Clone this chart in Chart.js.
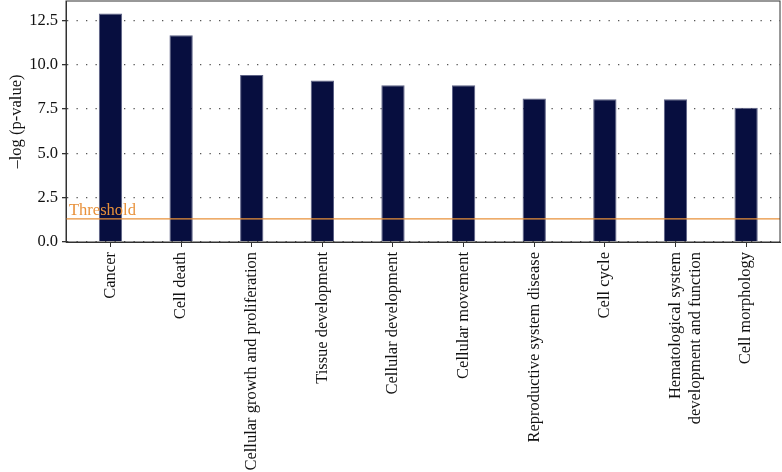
<!DOCTYPE html>
<html>
<head>
<meta charset="utf-8">
<script src="https://cdn.jsdelivr.net/npm/chart.js@4"></script>
<style>
  html, body { margin: 0; padding: 0; background: #fff; }
  #wrap { width: 782px; height: 472px; position: relative; }
</style>
</head>
<body>
<div id="wrap"><canvas id="barChart"></canvas></div>
<script>
// --- Data ---
const categories = [
  "Cancer",
  "Cell death",
  "Cellular growth and proliferation",
  "Tissue development",
  "Cellular development",
  "Cellular movement",
  "Reproductive system disease",
  "Cell cycle",
  ["Hematological system", "development and function"],
  "Cell morphology"
];
const negLogP = [12.9, 11.67, 9.43, 9.12, 8.84, 8.84, 8.1, 8.05, 8.05, 7.58];
const yTicks = [0, 2.5, 5, 7.5, 10, 12.5];
const threshold = 1.3;

const FONT = "'Liberation Serif', 'DejaVu Serif', serif";
const ORANGE = "#E8913A";

// frame round the plot + threshold line and label
const extras = {
  id: "extras",
  afterDatasetsDraw(chart) {
    const { ctx, chartArea: a, scales } = chart;
    const y = scales.y.getPixelForValue(threshold);
    ctx.save();
    ctx.strokeStyle = ORANGE;
    ctx.lineWidth = 1.2;
    ctx.beginPath();
    ctx.moveTo(a.left, y);
    ctx.lineTo(a.right, y);
    ctx.stroke();
    ctx.fillStyle = ORANGE;
    ctx.font = "16.5px " + FONT;
    ctx.textBaseline = "alphabetic";
    ctx.fillText("Threshold", a.left + 3, y - 4);

    ctx.strokeStyle = "#333";
    ctx.lineWidth = 1;
    ctx.strokeRect(a.left, a.top, a.right - a.left, a.bottom - a.top);
    ctx.restore();
  }
};

const ctx = document.getElementById("barChart").getContext("2d");
new Chart(ctx, {
  type: "bar",
  data: {
    datasets: [{
      data: negLogP.map((v, i) => ({ x: i, y: v })),
      backgroundColor: "#070E3F",
      borderColor: "#5d6286",
      borderWidth: 1,
      categoryPercentage: 1,
      barPercentage: 0.33
    }]
  },
  options: {
    responsive: true,
    maintainAspectRatio: false,
    animation: false,
    layout: { padding: { top: 1, right: 2, left: 0, bottom: 0 } },
    plugins: { legend: { display: false }, tooltip: { enabled: false } },
    scales: {
      x: {
        type: "linear",
        min: -0.63,
        max: 9.48,
        offset: false,
        afterBuildTicks: s => { s.ticks = categories.map((_, i) => ({ value: i })); },
        afterFit: s => { s.height = 230; s.paddingLeft = 0; s.paddingRight = 0; },
        grid: { offset: false, drawOnChartArea: false, drawTicks: true, tickLength: 5, color: "#333" },
        border: { display: true, color: "#333" },
        ticks: {
          autoSkip: false,
          minRotation: 90,
          maxRotation: 90,
          padding: 5,
          color: "#111",
          font: { family: FONT, size: 16.5 },
          callback: v => categories[v]
        }
      },
      y: {
        min: 0,
        max: 13.6,
        afterBuildTicks: s => { s.ticks = yTicks.map(v => ({ value: v })); },
        afterFit: s => { s.width = 66; s.paddingTop = 0; s.paddingBottom = 0; },
        grid: {
          color: "#555",
          lineWidth: 1.3,
          tickLength: 4,
          tickColor: "#333",
          tickBorderDash: []
        },
        border: { display: true, color: "#333", dash: [1.3, 8.2] },
        ticks: {
          padding: 4,
          color: "#111",
          font: { family: FONT, size: 16.5 },
          callback: v => v.toFixed(1)
        },
        title: {
          display: true,
          text: "–log (p-value)",
          color: "#111",
          padding: { top: 7, bottom: 2 },
          font: { family: FONT, size: 16.5 }
        }
      }
    }
  },
  plugins: [extras]
});
</script>
</body>
</html>
